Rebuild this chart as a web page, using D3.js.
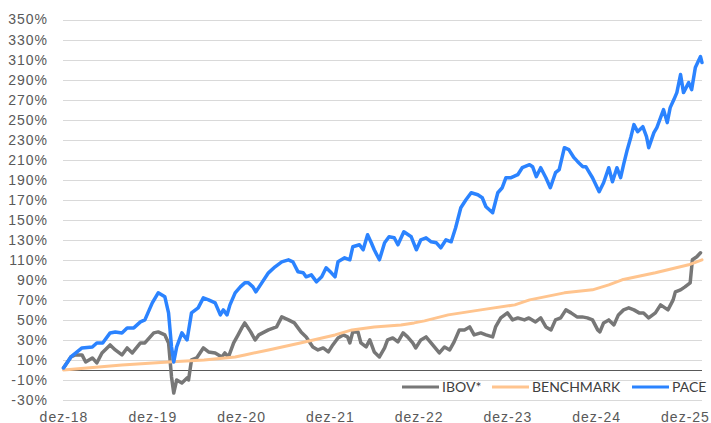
<!DOCTYPE html>
<html>
<head>
<meta charset="utf-8">
<script src="https://cdn.jsdelivr.net/npm/d3@7"></script>
<style>
  html, body { margin: 0; padding: 0; background: #ffffff; }
  svg { display: block; font-family: Lato, "Open Sans", sans-serif; }
</style>
</head>
<body>
<svg id="chart" width="711" height="423"></svg>
<script>
// x values: months since dez-18 ; y values: cumulative return in %
const xTickValues = [0, 12, 24, 36, 48, 60, 72, 84];
const xTickLabels = ["dez-18", "dez-19", "dez-20", "dez-21", "dez-22", "dez-23", "dez-24", "dez-25"];
const yTickValues = [-30, -10, 10, 30, 50, 70, 90, 110, 130, 150, 170, 190, 210, 230, 250, 270, 290, 310, 330, 350];
const seriesNames = ["IBOV*", "BENCHMARK", "PACE"];

const ibov = [[0,2],[1,13],[1.6,15],[2.5,15],[3,8],[3.9,12],[4.5,7],[5.2,17],[6.3,25],[7,20],[7.9,15],[8.6,22],[9.3,17],[10.4,27],[11,27],[12.2,37],[12.8,38],[13.7,35],[14.2,27],[14.6,-7],[14.9,-23],[15.3,-10],[16,-13],[16.7,-8],[16.9,-10],[17.3,10],[18,12],[18.9,22],[19.6,18],[20.5,17],[21.4,13],[21.8,17],[22.3,13],[23,27],[23.6,35],[24.1,42],[24.5,47],[25.3,38],[25.9,30],[26.4,35],[27.7,40],[28.8,43],[29.5,53],[30.4,50],[31.2,47],[32.1,38],[32.8,33],[33.7,23],[34.4,20],[35.1,22],[35.8,18],[36.4,25],[37.1,32],[37.8,35],[38.4,33],[38.7,27],[39.1,38],[39.8,38],[40.2,27],[40.9,23],[41.4,30],[42,18],[42.7,13],[43.4,22],[43.8,30],[44.5,32],[45.2,28],[45.9,37],[46.5,33],[47.2,27],[47.6,22],[48.3,30],[49,33],[49.9,25],[50.8,17],[51.5,23],[52.2,20],[52.8,28],[53.5,40],[54.2,40],[54.9,43],[55.5,35],[56.4,37],[57.1,35],[58,33],[58.4,43],[59.1,52],[60,57],[60.7,50],[61.4,52],[62.3,50],[62.9,52],[63.8,48],[64.5,52],[65.2,43],[65.9,40],[66.5,50],[67.2,52],[67.9,60],[68.6,57],[69.4,53],[70.1,53],[70.8,52],[71.5,50],[72.2,40],[72.5,38],[73,47],[73.7,50],[74.4,45],[75,55],[75.7,60],[76.4,62],[77.1,60],[77.8,57],[78.4,57],[79.1,52],[80,57],[80.7,65],[81.7,60],[82.4,70],[82.7,78],[83.4,80],[84,83],[84.7,87],[85,110],[85.6,113],[86.1,117]];

const benchmark = [[0,0],[7.9,5],[14.2,8],[19,10],[23.2,13],[24.5,15],[27.7,20],[32,27],[36.7,35],[39,40],[42,43],[45.6,45],[47.4,47],[48.8,49],[52,55],[56.4,60],[61,65],[63,70],[67.7,77],[71.5,80],[73.7,85],[75.5,90],[80,97],[84.5,105],[86.3,110]];

const pace = [[0,2],[1,13],[2.5,22],[3.9,23],[4.5,27],[5.3,27],[6.3,37],[7,38],[7.9,37],[8.6,42],[9.5,42],[10.4,48],[11,50],[12,67],[12.8,77],[13.7,73],[14.2,57],[14.6,23],[14.9,8],[15.3,23],[16,37],[16.7,30],[17.3,57],[18.2,62],[18.9,72],[19.6,70],[20.5,67],[21.2,55],[21.6,60],[22.1,55],[22.5,65],[23.2,77],[23.9,83],[24.5,87],[25,87],[25.6,83],[26,78],[26.8,87],[27.7,97],[28.6,103],[29.5,108],[30.4,110],[31,108],[31.7,98],[32.4,97],[32.8,93],[33.5,95],[34.2,88],[34.9,93],[35.5,102],[36.2,97],[36.7,93],[37.1,108],[38,112],[38.7,110],[39.1,123],[40,125],[40.5,120],[41.1,135],[41.6,127],[42,120],[42.7,110],[43.4,127],[44,133],[44.7,132],[45.2,125],[46,138],[47,133],[47.7,120],[48.3,130],[49,132],[49.7,128],[50.4,127],[51,122],[51.7,130],[52.4,128],[53,142],[53.7,162],[54.4,170],[55.1,177],[56,175],[56.6,172],[57.1,163],[58,157],[58.7,177],[59.3,182],[59.8,192],[60.5,192],[61.4,195],[62,202],[63,205],[63.4,203],[63.9,193],[64.5,202],[65.2,192],[65.8,182],[66.5,197],[67,200],[67.7,222],[68.3,220],[69,212],[69.5,208],[70.2,203],[70.6,203],[71,198],[71.5,192],[72.4,178],[73,187],[73.7,202],[74.2,188],[74.8,202],[75.3,192],[75.7,205],[76.2,220],[76.7,233],[77.1,245],[77.6,238],[78.3,243],[78.8,233],[79.1,222],[79.8,237],[80.2,242],[80.7,252],[81.1,260],[81.6,247],[82,262],[82.5,270],[82.9,277],[83.4,295],[83.8,277],[84.5,287],[84.9,280],[85.4,302],[86.1,313],[86.3,307]];

const seriesData = [ibov, benchmark, pace];
const seriesColors = ["#777777", "#FFC48E", "#2B83FF"];
const seriesWidths = [3.5, 3, 3.5];

const svg = d3.select("#chart");
const plotLeft = 63, plotRight = 702, plotTop = 19.5, plotBottom = 400;

const x = d3.scaleLinear().domain([0, 86.3]).range([63.5, 702]);
const y = d3.scaleLinear().domain([-30, 350]).range([plotBottom, plotTop]);

// gridlines
svg.append("g")
  .selectAll("line")
  .data(yTickValues)
  .join("line")
  .attr("x1", plotLeft).attr("x2", plotRight)
  .attr("y1", d => Math.round(y(d)) + 0.5)
  .attr("y2", d => Math.round(y(d)) + 0.5)
  .attr("stroke", "#d9d9d9")
  .attr("stroke-width", 1);

// y axis labels
const yAxis = svg.append("g")
  .attr("transform", `translate(${plotLeft},0)`)
  .call(d3.axisLeft(y).tickValues(yTickValues).tickSize(0).tickPadding(15).tickFormat(d => d + "%"));
yAxis.select(".domain").remove();
yAxis.selectAll("text")
  .attr("fill", "#595959")
  .style("font-size", "14px")
  .style("letter-spacing", "1px");

// zero line
svg.append("line")
  .attr("x1", plotLeft).attr("x2", plotRight)
  .attr("y1", Math.round(y(0)) + 0.5).attr("y2", Math.round(y(0)) + 0.5)
  .attr("stroke", "#595959").attr("stroke-width", 1);

// x axis labels
const xAxis = svg.append("g")
  .attr("transform", `translate(0,${plotBottom})`)
  .call(d3.axisBottom(x).tickValues(xTickValues).tickSize(0).tickPadding(0)
    .tickFormat((d, i) => xTickLabels[i]));
xAxis.select(".domain").remove();
xAxis.selectAll("text")
  .attr("dy", null)
  .attr("y", 21.5)
  .attr("fill", "#595959")
  .style("font-size", "14px")
  .style("letter-spacing", "1px");

// lines
const line = d3.line().x(d => x(d[0])).y(d => y(d[1]));
svg.append("g")
  .selectAll("path")
  .data(seriesData)
  .join("path")
  .attr("d", d => line(d))
  .attr("fill", "none")
  .attr("stroke", (d, i) => seriesColors[i])
  .attr("stroke-width", (d, i) => seriesWidths[i])
  .attr("stroke-linejoin", "round")
  .attr("stroke-linecap", "round");

// legend
const legendX = [402, 492, 632];
const legend = svg.append("g")
  .selectAll("g")
  .data(seriesNames)
  .join("g")
  .attr("transform", (d, i) => `translate(${legendX[i]},387)`);
legend.append("line")
  .attr("x1", 0).attr("x2", 37)
  .attr("y1", 0).attr("y2", 0)
  .attr("stroke", (d, i) => seriesColors[i])
  .attr("stroke-width", 3);
legend.append("text")
  .attr("x", 40)
  .attr("y", 0)
  .attr("dy", "0.35em")
  .attr("fill", "#404040")
  .style("font-size", "14px")
  .text(d => d);
</script>
</body>
</html>
